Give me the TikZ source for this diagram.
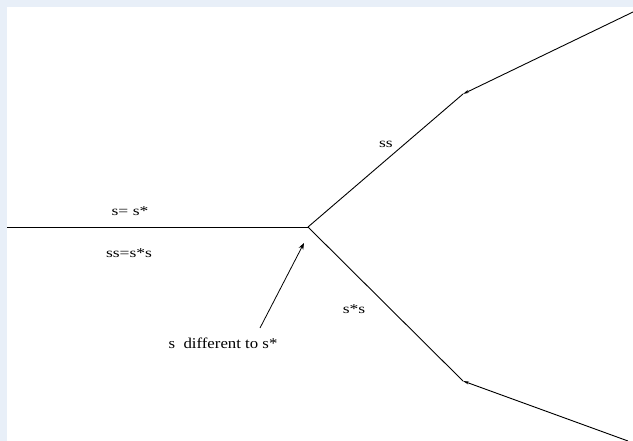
\documentclass[tikz,border=0pt]{standalone}
\usepackage{fontspec}
\setmainfont{Liberation Serif}
\usepackage{graphicx}
\usepackage{tikz}
\usetikzlibrary{arrows.meta,positioning,calc}
\usepackage{xcolor}
\definecolor{frame}{RGB}{232,239,248}
\newcommand{\widetext}[2]{\scalebox{#1}[1]{#2}}

\begin{document}
\begin{tikzpicture}[x=1pt,y=-1pt,>=Stealth,line width=0.9pt,
      lbl/.style={inner sep=1pt,font=\fontsize{13.5}{15}\selectfont},
      br/.style={line width=0.9pt},
      tip/.style={-{Stealth[length=6pt,width=3pt]}}]
    % background and frame strip
    \fill[frame] (0,0) rectangle (633,441);
    \fill[white] (7,7) rectangle (633,441);
    \useasboundingbox (0,0) rectangle (633,441);
    % points of the path
    \coordinate (start) at (7,227);
    \coordinate (fork) at (308,227);
    \coordinate (upkink) at (463,94);
    \coordinate (upend) at (633,12);
    \coordinate (lowkink) at (463,381);
    \coordinate (lowend) at (628,441);
    \coordinate (hint) at (260,328);
    % labels
    \node[lbl] (eq) at (130,211) {\widetext{1.3}{s= s*}};
    \node[lbl] (prod) at (129,253) {\widetext{1.3}{ss=s*s}};
    \node[lbl] (up) at (386,144) {\widetext{1.3}{ss}};
    \node[lbl] (low) at (354,309) {\widetext{1.3}{s*s}};
    \node[lbl,font=\fontsize{15}{17}\selectfont] (diff) at (223,343) {\widetext{1.12}{s\ \ different to s*}};
    % branches
    \draw[br] (start) -- (fork);
    \draw[br] (fork) -- (upkink);
    \draw[br,tip] (upend) -- (upkink);
    \draw[br] (fork) -- (lowkink);
    \draw[br,tip] (lowend) -- (lowkink);
    \draw[->,line width=0.8pt] (hint) -- ($(fork)+(-4,16)$);
  \end{tikzpicture}
\end{document}
